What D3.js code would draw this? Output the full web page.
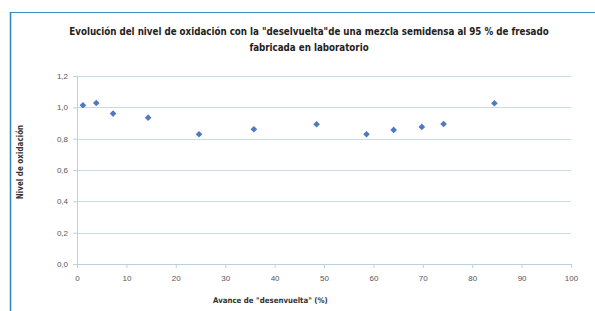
<!DOCTYPE html>
<html>
<head>
<meta charset="utf-8">
<script src="https://cdn.jsdelivr.net/npm/d3@7"></script>
<style>
  body { margin: 0; background: #fff; }
  text { font-family: "DejaVu Sans Condensed", "Open Sans", sans-serif; }
</style>
</head>
<body>
<div id="wrapper"></div>
<script>
// Data
const avance = [1.2, 3.9, 7.3, 14.4, 24.7, 35.8, 48.5, 58.6, 64.1, 69.8, 74.2, 84.5]
const nivel = [1.013, 1.028, 0.96, 0.934, 0.828, 0.86, 0.892, 0.828, 0.856, 0.875, 0.894, 1.026]
const xTicks = [0, 10, 20, 30, 40, 50, 60, 70, 80, 90, 100]
const yTicks = [0, 0.2, 0.4, 0.6, 0.8, 1.0, 1.2]
const titleLines = [
  "Evolución del nivel de oxidación con la \"deselvuelta\"de una mezcla semidensa al 95 % de fresado",
  "fabricada en laboratorio",
]

const data = avance.map((x, i) => ({ x, y: nivel[i] }))

const dimensions = {
  width: 595,
  height: 311,
  margins: { top: 76, right: 24, bottom: 47, left: 77 },
}
dimensions.boundedWidth = dimensions.width - dimensions.margins.left - dimensions.margins.right
dimensions.boundedHeight = dimensions.height - dimensions.margins.top - dimensions.margins.bottom

const svg = d3.select("#wrapper")
  .append("svg")
  .attr("width", dimensions.width)
  .attr("height", dimensions.height)

// frame of the figure
svg.append("line")
  .attr("x1", 10.5).attr("x2", 10.5).attr("y1", 12).attr("y2", 311)
  .style("stroke", "#2f86b8").style("stroke-width", 1.5)
svg.append("line")
  .attr("x1", 10).attr("x2", 595).attr("y1", 12.5).attr("y2", 12.5)
  .style("stroke", "#3a8fb8").style("stroke-width", 1)

// title
svg.append("g")
  .selectAll("text")
  .data(titleLines)
  .join("text")
  .attr("x", 309)
  .attr("y", (d, i) => 35 + i * 16)
  .attr("text-anchor", "middle")
  .style("font-size", "9.7px")
  .style("font-weight", "bold")
  .style("fill", "#222")
  .text((d) => d)

const bounds = svg.append("g")
  .attr("transform", `translate(${dimensions.margins.left},${dimensions.margins.top})`)

const xScale = d3.scaleLinear().domain([0, 100]).range([0, dimensions.boundedWidth])
const yScale = d3.scaleLinear().domain([0, 1.2]).range([dimensions.boundedHeight, 0])

// gridlines
bounds.append("g")
  .selectAll("line")
  .data(yTicks.filter((d) => d > 0))
  .join("line")
  .attr("x1", 0)
  .attr("x2", dimensions.boundedWidth)
  .attr("y1", (d) => Math.round(yScale(d)) + 0.5)
  .attr("y2", (d) => Math.round(yScale(d)) + 0.5)
  .style("stroke", "#c9dce6")
  .style("stroke-width", 1.2)

// axes
const fmt = (d) => d3.format(".1f")(d).replace(".", ",")

const yAxis = bounds.append("g")
  .call(d3.axisLeft(yScale).tickValues(yTicks).tickFormat(fmt).tickSize(4))
yAxis.select(".domain").style("stroke", "#b9d2e0")
yAxis.selectAll(".tick line").style("stroke", "#b9d2e0")
yAxis.selectAll(".tick text")
  .attr("x", -9)
  .style("font-size", "8px")
  .style("fill", "#555")
  .style("font-family", "'Liberation Sans', sans-serif")

const xAxis = bounds.append("g")
  .attr("transform", `translate(0,${dimensions.boundedHeight})`)
  .call(d3.axisBottom(xScale).tickValues(xTicks).tickSize(4))
xAxis.select(".domain").style("stroke", "#b9d2e0")
xAxis.selectAll(".tick line").style("stroke", "#b9d2e0")
xAxis.selectAll(".tick text")
  .attr("y", 11)
  .style("font-size", "8px")
  .style("fill", "#555")
  .style("font-family", "'Liberation Sans', sans-serif")

// axis titles
bounds.append("text")
  .attr("x", 136)
  .attr("y", dimensions.boundedHeight + 39)
  .style("font-size", "7.8px")
  .style("font-weight", "bold")
  .style("fill", "#333")
  .text("Avance de \"desenvuelta\" (%)")

bounds.append("text")
  .attr("transform", `translate(-54,${dimensions.boundedHeight / 2 - 8}) rotate(-90)`)
  .attr("text-anchor", "middle")
  .style("font-size", "8px")
  .style("font-weight", "bold")
  .style("fill", "#333")
  .text("Nivel de oxidación")

// points
bounds.append("g")
  .selectAll("path")
  .data(data)
  .join("path")
  .attr("d", d3.symbol(d3.symbolDiamond2, 28))
  .attr("transform", (d) => `translate(${xScale(d.x)},${yScale(d.y)})`)
  .style("fill", "#5079c4")
</script>
</body>
</html>
